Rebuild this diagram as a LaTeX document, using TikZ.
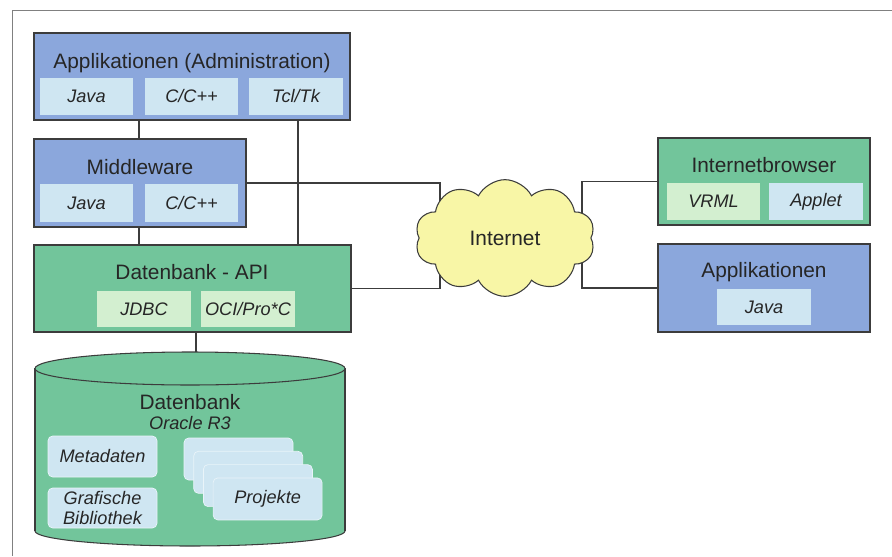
\documentclass[tikz,border=0pt]{standalone}
\usepackage{fontspec}
\setmainfont{Liberation Sans}
\usetikzlibrary{fit,shapes.symbols}
\definecolor{boxblue}{HTML}{8BA7DC}
\definecolor{subblue}{HTML}{CFE6F2}
\definecolor{boxgreen}{HTML}{72C59B}
\definecolor{subgreen}{HTML}{D3EFD0}
\definecolor{cloudyellow}{HTML}{F8F6A6}
\definecolor{linegray}{HTML}{3C3C3C}
\newcommand{\ttlfont}{\fontsize{17.8}{20}\selectfont}
\newcommand{\subfont}{\fontsize{15.5}{17}\selectfont\itshape}
\begin{document}
\begin{tikzpicture}[x=0.03cm,y=-0.03cm,
  bigbox/.style={draw=linegray,line width=0.9pt,inner sep=0pt},
  subbox/.style={inner sep=0pt},
  sublbl/.style={inner sep=0pt,font=\subfont,text=black!85,align=center},
  card/.style={fill=subblue,draw=white!55!subblue,line width=0.6pt,rounded corners=4pt,inner sep=0pt},
  title/.style={font=\ttlfont,inner sep=0pt,text=black!85},
  link/.style={draw=linegray,line width=0.9pt}]
\useasboundingbox (0,0) rectangle (892,556);
\draw[gray,line width=0.6pt] (892,10) -- (12,10) -- (12,556);

% left column
\node[bigbox,fill=boxblue,fit={(34,33) (350,120)}] (appadm) {};
\node[title] (appadmT) at (192,63) {Applikationen (Administration)};
\node[subbox,fill=subblue,fit={(40,78) (133,115)},label={[sublbl]center:Java}] (appadm1) {};
\node[subbox,fill=subblue,fit={(145,78) (238,115)},label={[sublbl]center:C/C++}] (appadm2) {};
\node[subbox,fill=subblue,fit={(249,78) (343,115)},label={[sublbl]center:Tcl/Tk}] (appadm3) {};

\node[bigbox,fill=boxblue,fit={(34,139) (246,227)}] (mw) {};
\node[title] (mwT) at (140,167) {Middleware};
\node[subbox,fill=subblue,fit={(40,184) (133,222)},label={[sublbl]center:Java}] (mw1) {};
\node[subbox,fill=subblue,fit={(145,184) (238,222)},label={[sublbl]center:C/C++}] (mw2) {};

\node[bigbox,fill=boxgreen,fit={(34,245) (351,332)}] (dbapi) {};
\node[title] (dbapiT) at (192,272) {Datenbank - API};
\node[subbox,fill=subgreen,fit={(97,291) (191,327)},label={[sublbl]center:JDBC}] (dbapi1) {};
\node[subbox,fill=subgreen,fit={(201,291) (295,327)},label={[sublbl]center:OCI/Pro*C}] (dbapi2) {};

% right column
\node[bigbox,fill=boxgreen,fit={(658,138) (870,225)}] (ib) {};
\node[title] (ibT) at (764,165) {Internetbrowser};
\node[subbox,fill=subgreen,fit={(667,183) (760,220)},label={[sublbl]center:VRML}] (ib1) {};
\node[subbox,fill=subblue,fit={(769,183) (863,220)},label={[sublbl]center:Applet}] (ib2) {};

\node[bigbox,fill=boxblue,fit={(658,244) (870,332)}] (app) {};
\node[title] (appT) at (764,272) {Applikationen};
\node[subbox,fill=subblue,fit={(717,289) (811,325)},label={[sublbl]center:Java}] (app1) {};

% database
\filldraw[fill=boxgreen,draw=linegray,line width=0.9pt] (190,531) ellipse[x radius=155,y radius=15];
\fill[boxgreen] (35,368) rectangle (345,531);
\draw[link] (35,368) -- (35,531) (345,368) -- (345,531);
\filldraw[fill=boxgreen,draw=linegray,line width=0.9pt] (190,368.5) ellipse[x radius=155,y radius=16.5];
\coordinate (dbtop) at (196,352);
\node[title] (db) at (190,402) {Datenbank};
\node[sublbl] (dbsys) at (190,423) {Oracle R3};
\node[card,fit={(48,436) (157,477)},label={[sublbl]center:Metadaten}] (meta) {};
\node[card,fit={(48,488) (157,528)},label={[sublbl]center:Grafische\\Bibliothek}] (grafbib) {};
\foreach \i in {0,...,3}
  \node[card,fit={(184+9.7*\i,438+13.3*\i) (293+9.7*\i,480+13.3*\i)}] (proj\i) {};
\node[sublbl] (projT) at (proj3.center) {Projekte};

% connectors
\coordinate (ax) at (139,0);
\coordinate (bx) at (298,0);
\coordinate (cl) at (440,238);
\coordinate (cr) at (582,238);
\draw[link] (appadm.south -| ax) -- (mw.north -| ax);
\draw[link] (mw.south -| ax) -- (dbapi.north -| ax);
\draw[link] (appadm.south -| bx) -- (dbapi.north -| bx);
\draw[link] (dbapi.south -| dbtop) -- (dbtop);
\draw[link] (mw.east) -| (cl) |- (dbapi.east);
\draw[link] (ib.west) -| (cr) |- (app.west);

\node[cloud,cloud puffs=10,cloud puff arc=125,cloud ignores aspect,draw=linegray,line width=0.9pt,fill=cloudyellow,
  minimum width=5.4cm,minimum height=3.5cm,font=\ttlfont,text=black!85] (cloud) at (505,238) {Internet};
\end{tikzpicture}
\end{document}
